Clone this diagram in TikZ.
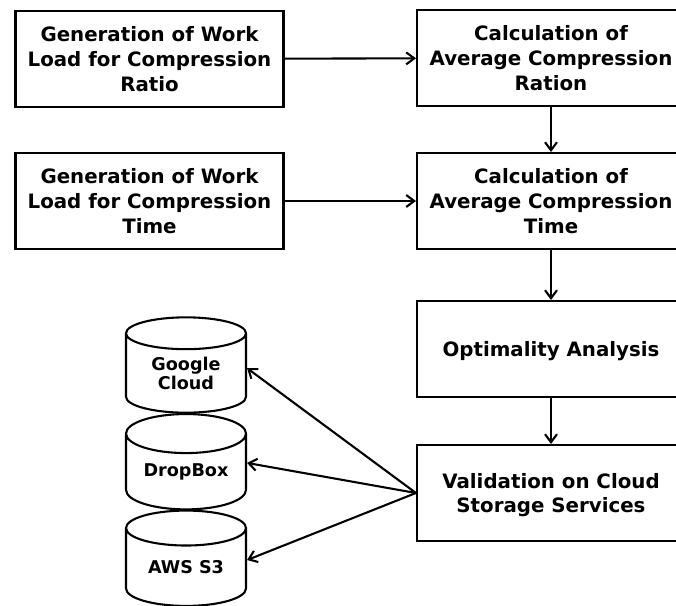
\documentclass[tikz,border=0pt]{standalone}
\usepackage{fontspec}
\setmainfont{DejaVu Sans}
\usetikzlibrary{shapes.geometric,arrows.meta}
\tikzset{
    procbox/.style={draw,line width=.55mm,align=center,font=\bfseries\fontsize{14.85}{18.4}\selectfont,minimum width=201pt,minimum height=72pt,inner sep=0pt,text depth=-2.5pt},
    storedisk/.style={draw,line width=.55mm,align=center,font=\bfseries\fontsize{13.2}{14.4}\selectfont,cylinder,shape border rotate=90,aspect=.46,minimum width=90pt,minimum height=71.5pt,inner sep=0pt,fill=white},
    link/.style={line width=.55mm,-{Straight Barb[length=6pt,width=9pt]}}
}
\begin{document}
\begin{tikzpicture}[x=.75pt,y=-.75pt]
    \useasboundingbox (0,0) rectangle (676,606);
    % left column
    \node[procbox] (loadratio) at (149.5,59) {Generation of Work\\Load for Compression\\Ratio};
    \node[procbox] (loadtime) at (149.5,201) {Generation of Work\\Load for Compression\\Time};
    % right column
    \node[procbox] (avgratio) at (551,58) {Calculation of\\Average Compression\\Ration};
    \node[procbox] (avgtime) at (551,201) {Calculation of\\Average Compression\\Time};
    \node[procbox,text depth=0pt] (optimal) at (551,349) {Optimality Analysis};
    \node[procbox] (validate) at (551,493) {Validation on Cloud\\Storage Services};
    % cloud stores
    \node[storedisk] (aws) at (186,567.5) {AWS S3};
    \node[storedisk] (dropbox) at (186,472) {DropBox};
    \node[storedisk] (google) at (186,373.5) {Google\\Cloud};
    \draw[link] (loadratio) -- (avgratio);
    \draw[link] (loadtime) -- (avgtime);
    \draw[link] (avgratio) -- (avgtime);
    \draw[link] (avgtime) -- (optimal);
    \draw[link] (optimal) -- (validate);
    \draw[link] (validate.west) -- ([yshift=4pt]google.east);
    \draw[link] (validate.west) -- ([yshift=6.8pt]dropbox.east);
    \draw[link] (validate.west) -- ([yshift=5.6pt]aws.east);
\end{tikzpicture}
\end{document}
